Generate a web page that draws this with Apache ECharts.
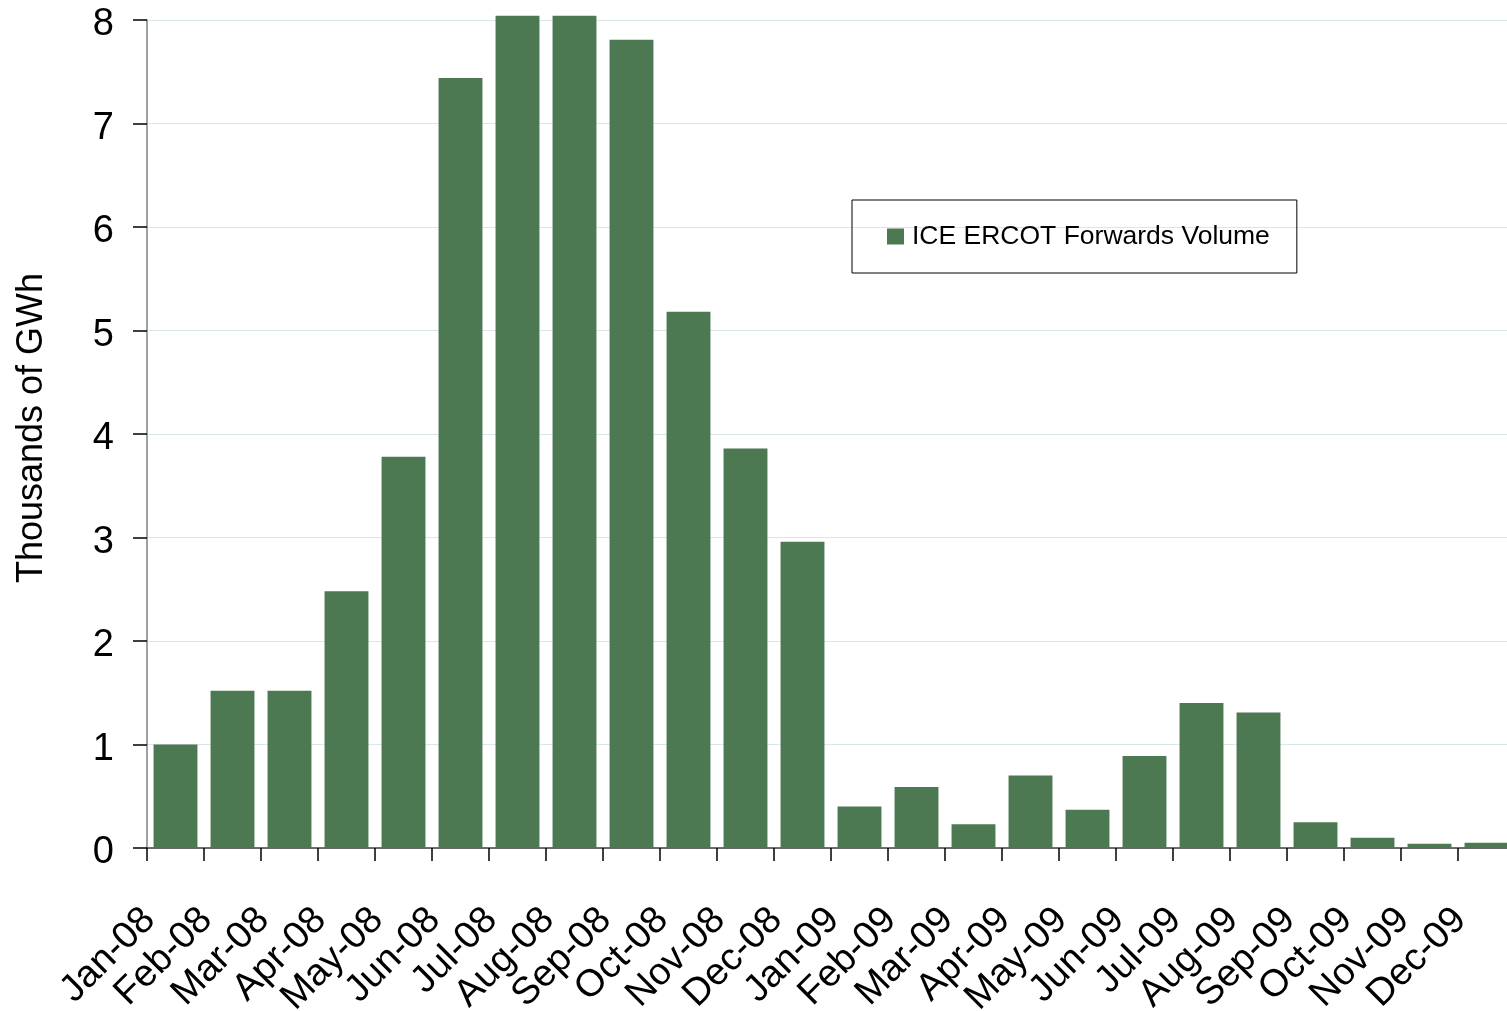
<!DOCTYPE html>
<html>
<head>
<meta charset="utf-8">
<script src="https://cdn.jsdelivr.net/npm/echarts@6/dist/echarts.min.js"></script>
<style>
html,body{margin:0;padding:0;background:#fff;overflow:hidden;}
#chart{width:1507px;height:1011px;}
</style>
</head>
<body>
<div id="chart"></div>
<script>
var categories = ['Jan-08','Feb-08','Mar-08','Apr-08','May-08','Jun-08','Jul-08','Aug-08','Sep-08','Oct-08','Nov-08','Dec-08',
                  'Jan-09','Feb-09','Mar-09','Apr-09','May-09','Jun-09','Jul-09','Aug-09','Sep-09','Oct-09','Nov-09','Dec-09'];
var volumes = [1.00, 1.52, 1.52, 2.48, 3.78, 7.44, 8.04, 8.04, 7.81, 5.18, 3.86, 2.96,
               0.40, 0.59, 0.23, 0.70, 0.37, 0.89, 1.40, 1.31, 0.25, 0.10, 0.04, 0.05];
var seriesName = 'ICE ERCOT Forwards Volume';
var yAxisName = 'Thousands of GWh';

var FONT = "'Liberation Sans', Arial, sans-serif";
var chart = echarts.init(document.getElementById('chart'), null, {renderer: 'canvas', width: 1507, height: 1011});
chart.setOption({
  backgroundColor: '#ffffff',
  animation: false,
  textStyle: {fontFamily: FONT},
  grid: {left: 147, top: 20, width: 1368, height: 828, containLabel: false, outerBoundsMode: 'none'},
  legend: {
    show: true,
    left: 852, top: 200,
    orient: 'horizontal',
    borderColor: '#000000', borderWidth: 1,
    padding: [23, 27, 23, 35],
    itemWidth: 17, itemHeight: 16,
    icon: 'rect',
    textStyle: {fontFamily: FONT, fontSize: 26.5, color: '#000000', padding: [0, 0, 0, 3]},
    data: [seriesName]
  },
  xAxis: {
    type: 'category',
    data: categories,
    boundaryGap: true,
    axisLine: {lineStyle: {color: '#404040', width: 1.5}},
    axisTick: {show: true, length: 13, lineStyle: {color: '#000000', width: 1.5}},
    axisLabel: {
      interval: 0, rotate: 45, fontFamily: FONT, fontSize: 38, color: '#000000',
      margin: 40, padding: [0, 37, 0, 0]
    },
    splitLine: {show: false}
  },
  yAxis: {
    type: 'value',
    min: 0, max: 8, interval: 1,
    name: yAxisName,
    nameLocation: 'middle',
    nameGap: 97,
    nameRotate: 90,
    nameTextStyle: {fontFamily: FONT, fontSize: 36, color: '#000000', padding: [0, 0, 0, 12]},
    axisLine: {show: true, lineStyle: {color: '#808080', width: 1.5}},
    axisTick: {show: true, length: 14, lineStyle: {color: '#000000', width: 1.5}},
    axisLabel: {fontFamily: FONT, fontSize: 38, color: '#000000', margin: 33, verticalAlign: 'top', lineHeight: 10},
    splitLine: {show: true, lineStyle: {color: '#d8e8e8', width: 1.2}}
  },
  series: [{
    name: seriesName,
    type: 'bar',
    data: volumes,
    clip: false,
    barCategoryGap: '23%',
    itemStyle: {color: '#4c7852'}
  }]
});
</script>
</body>
</html>
